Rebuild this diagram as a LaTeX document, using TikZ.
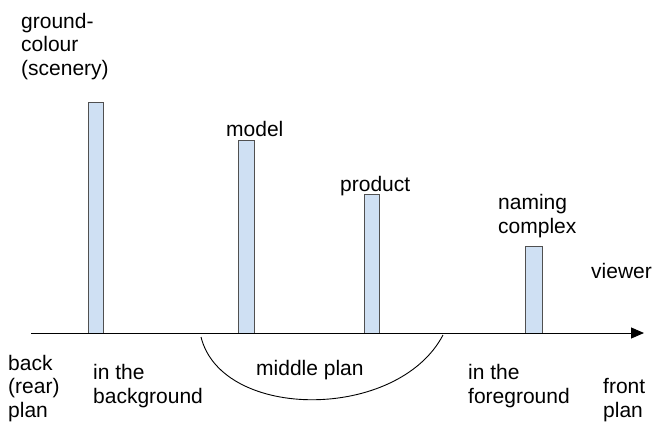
\documentclass[tikz,border=0pt]{standalone}
\usepackage{fontspec}
\setmainfont{Liberation Sans}
\usetikzlibrary{arrows.meta}
\definecolor{barfill}{HTML}{CFE0F3}
\definecolor{barline}{HTML}{505050}
\tikzset{
	bar/.style={draw=barline,fill=barfill,line width=0.9pt},
	lbl/.style={anchor=base west,inner sep=0pt,align=left,font=\fontsize{21}{23.5}\selectfont},
}
\begin{document}
\begin{tikzpicture}[x=1pt,y=-1pt]
	\pgfmathsetmacro{\yAxis}{333};
	\useasboundingbox (0,0) rectangle (656,421);
	% bars standing on the axis
	\foreach \xl/\xr/\top in {88/103/102,238/254/140,364/379/194,525/542/246}
		\draw[bar] (\xl,\yAxis) rectangle (\xr,\top);
	% axis towards the viewer
	\coordinate (axstart) at (31,\yAxis);
	\coordinate (axend) at (644,\yAxis);
	\draw[line width=1pt,-{Triangle[length=13pt,width=11pt]}] (axstart) -- (axend);
	% middle plan
	\coordinate (arcl) at (201,337);
	\coordinate (arcr) at (443,335);
	\draw[line width=0.9pt] (arcl) .. controls (222,421) and (398,421) .. (arcr);
	% labels (base = last line)
	\node[lbl] (ground) at (21,75) {ground-\\colour\\(scenery)};
	\node[lbl] (model) at (226,136) {model};
	\node[lbl] (product) at (340,191) {product};
	\node[lbl] (naming) at (498,233) {naming\\complex};
	\node[lbl] (viewer) at (591,278) {viewer};
	\node[lbl] (back) at (8,417) {back\\(rear)\\plan};
	\node[lbl] (bground) at (93,403) {in the\\background};
	\node[lbl] (middle) at (256,375) {middle plan};
	\node[lbl] (fground) at (468,403) {in the\\foreground};
	\node[lbl] (front) at (603,417) {front\\plan};
\end{tikzpicture}
\end{document}
